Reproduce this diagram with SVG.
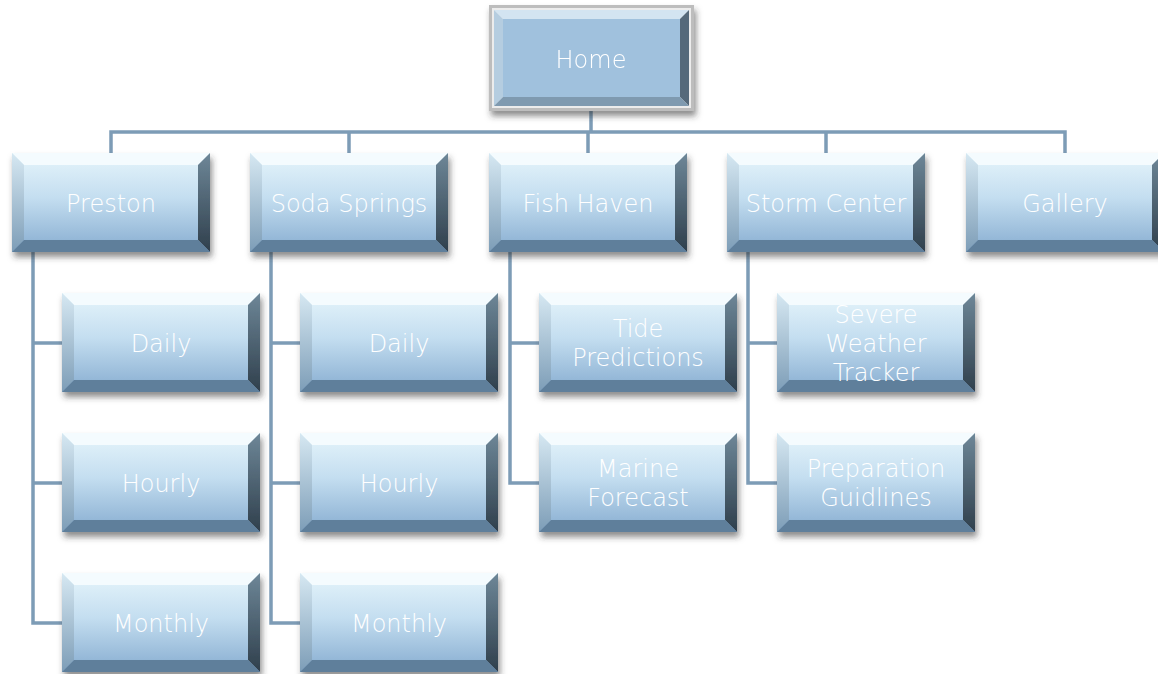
<svg xmlns="http://www.w3.org/2000/svg" xmlns:xlink="http://www.w3.org/1999/xlink" width="1158" height="674" viewBox="0 0 1158 674">
<style>
.c{fill:none;stroke:#7d9cb6;stroke-width:3.5}
.t{font-family:"DejaVu Sans",sans-serif;font-weight:200;font-size:24px;fill:#ffffff;text-anchor:middle}
</style>
<defs>
<linearGradient id="gFace" x1="0" y1="0" x2="0" y2="1">
<stop offset="0" stop-color="#e6f5fb"/>
<stop offset="0.45" stop-color="#c4def0"/>
<stop offset="1" stop-color="#86acd0"/>
</linearGradient>
<linearGradient id="gLeft" x1="0" y1="0" x2="0" y2="1">
<stop offset="0" stop-color="#d6e8f2"/>
<stop offset="1" stop-color="#7d9db7"/>
</linearGradient>
<linearGradient id="gRight" x1="0" y1="0" x2="0" y2="1">
<stop offset="0" stop-color="#6e8798"/>
<stop offset="1" stop-color="#2f3f4c"/>
</linearGradient>
<filter id="sh" x="-10%" y="-10%" width="130%" height="140%">
<feDropShadow dx="2" dy="5" stdDeviation="3" flood-color="#333" flood-opacity="0.55"/>
</filter>
<symbol id="box" width="198" height="99" overflow="visible">
<rect x="0" y="0" width="198" height="99" fill="url(#gFace)"/>
<polygon points="0,0 198,0 186,12 12,12" fill="#f4fbfe"/>
<polygon points="0,0 12,12 12,87 0,99" fill="url(#gLeft)"/>
<polygon points="198,0 198,99 186,87 186,12" fill="url(#gRight)"/>
<polygon points="0,99 12,87 186,87 198,99" fill="#5f7f9b"/>
</symbol>
</defs>
<rect width="1158" height="674" fill="#ffffff"/>
<g id="connectors">
<path class="c" d="M591,110 V132 M111,153 V132 H1065 V153 M349,132 V153 M588,132 V153 M826,132 V153"/>
<path class="c" d="M33,252 V623 H62 M33,343 H62 M33,483 H62"/>
<path class="c" d="M271,252 V623 H300 M271,343 H300 M271,483 H300"/>
<path class="c" d="M510,252 V483 H539 M510,343 H539"/>
<path class="c" d="M748,252 V483 H777 M748,343 H777"/>
</g>
<g id="home" filter="url(#sh)">
<rect x="489" y="5" width="205" height="106" fill="#bdbdbd"/>
<rect x="492" y="8" width="199" height="100" fill="#ececec"/>
<polygon points="494,10 689,10 680,19 503,19" fill="#d3e4f1"/>
<polygon points="494,10 503,19 503,97 494,106" fill="#b5cde0"/>
<polygon points="689,10 689,106 680,97 680,19" fill="#55697a"/>
<polygon points="494,106 503,97 680,97 689,106" fill="#7f9ab0"/>
<rect x="503" y="19" width="177" height="78" fill="#a0c1dd"/>
<text class="t" x="591" y="68">Home</text>
</g>
<g id="preston"><use xlink:href="#box" x="12" y="153" filter="url(#sh)"/><text class="t" x="111" y="212">Preston</text></g>
<g id="soda"><use xlink:href="#box" x="250" y="153" filter="url(#sh)"/><text class="t" x="349" y="212">Soda Springs</text></g>
<g id="fish"><use xlink:href="#box" x="489" y="153" filter="url(#sh)"/><text class="t" x="588" y="212">Fish Haven</text></g>
<g id="storm"><use xlink:href="#box" x="727" y="153" filter="url(#sh)"/><text class="t" x="826" y="212">Storm Center</text></g>
<g id="gallery"><use xlink:href="#box" x="966" y="153" filter="url(#sh)"/><text class="t" x="1065" y="212">Gallery</text></g>
<g id="p-daily"><use xlink:href="#box" x="62" y="293" filter="url(#sh)"/><text class="t" x="161" y="352">Daily</text></g>
<g id="p-hourly"><use xlink:href="#box" x="62" y="433" filter="url(#sh)"/><text class="t" x="161" y="492">Hourly</text></g>
<g id="p-monthly"><use xlink:href="#box" x="62" y="573" filter="url(#sh)"/><text class="t" x="161" y="632">Monthly</text></g>
<g id="s-daily"><use xlink:href="#box" x="300" y="293" filter="url(#sh)"/><text class="t" x="399" y="352">Daily</text></g>
<g id="s-hourly"><use xlink:href="#box" x="300" y="433" filter="url(#sh)"/><text class="t" x="399" y="492">Hourly</text></g>
<g id="s-monthly"><use xlink:href="#box" x="300" y="573" filter="url(#sh)"/><text class="t" x="399" y="632">Monthly</text></g>
<g id="tide"><use xlink:href="#box" x="539" y="293" filter="url(#sh)"/><text class="t" x="638" y="337">Tide</text><text class="t" x="638" y="366">Predictions</text></g>
<g id="marine"><use xlink:href="#box" x="539" y="433" filter="url(#sh)"/><text class="t" x="638" y="477">Marine</text><text class="t" x="638" y="506">Forecast</text></g>
<g id="severe"><use xlink:href="#box" x="777" y="293" filter="url(#sh)"/><text class="t" x="876" y="323">Severe</text><text class="t" x="876" y="352">Weather</text><text class="t" x="876" y="381">Tracker</text></g>
<g id="prep"><use xlink:href="#box" x="777" y="433" filter="url(#sh)"/><text class="t" x="876" y="477">Preparation</text><text class="t" x="876" y="506">Guidlines</text></g>
</svg>
